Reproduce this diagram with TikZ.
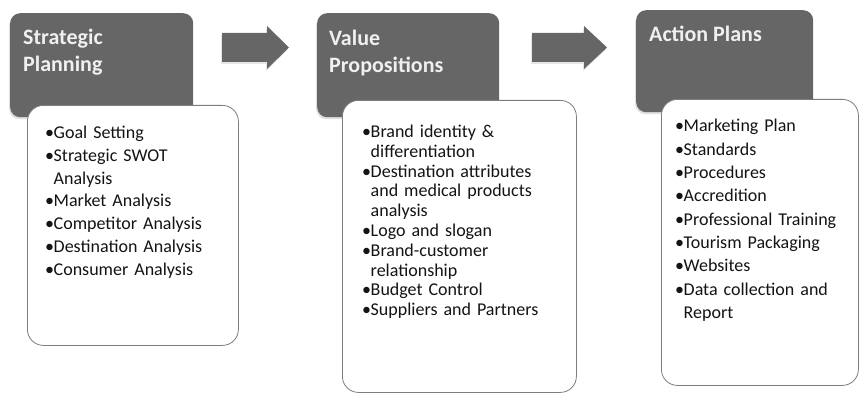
\documentclass[tikz,border=0pt]{standalone}
\usepackage{fontspec}
\setmainfont{Carlito}
\usetikzlibrary{shadows}
\definecolor{headgray}{RGB}{102,102,102}
\definecolor{framegray}{RGB}{125,125,125}
\newlength{\bulw}
\setlength{\bulw}{8.5pt}
\newcommand{\itm}[1]{\par\noindent\hangindent=\bulw\hangafter=1\makebox[\bulw][l]{\textbullet}#1}
\begin{document}
\begin{tikzpicture}[x=1pt,y=-1pt]
    \tikzset{
        headbox/.style={fill=headgray, rounded corners=10pt, anchor=north west,
            drop shadow={opacity=0.25, shadow xshift=-1pt, shadow yshift=-2pt}},
        listbox/.style={draw=framegray, fill=white, line width=0.8pt,
            rounded corners=16pt, anchor=north west},
        headtext/.style={anchor=north west, inner sep=0pt, align=left,
            text=white!94!black, font=\fontsize{22}{26.5}\selectfont\bfseries},
        bodytext/.style={anchor=north west, inner sep=0pt, align=left,
            text=black!92},
        blockarrow/.style={fill=headgray,
            drop shadow={opacity=0.2, shadow xshift=-1pt, shadow yshift=-2pt}}
    }
    \useasboundingbox (0,0) rectangle (860,396);

    % dark title boxes
    \node[headbox, minimum width=183pt, minimum height=104pt] (plan) at (10,13) {};
    \node[headbox, minimum width=182pt, minimum height=104pt] (value) at (317,13) {};
    \node[headbox, minimum width=177pt, minimum height=102pt] (action) at (636,10) {};

    % white list boxes
    \node[listbox, minimum width=211pt, minimum height=240pt] (planlist) at (27,105) {};
    \node[listbox, minimum width=234pt, minimum height=292pt] (valuelist) at (342,100) {};
    \node[listbox, minimum width=197pt, minimum height=286pt] (actionlist) at (661,99) {};

    % block arrows
    \foreach \xs/\xh/\xt in {222/267/289, 532/584/607}{
        \fill[blockarrow] (\xs,33) -- (\xh,33) -- (\xh,26) -- (\xt,47.5)
            -- (\xh,69) -- (\xh,62) -- (\xs,62) -- cycle;
    }

    % titles
    \node[headtext] (plan-t) at ([shift={(13,16)}]plan.north west) {Strategic\\Planning};
    \node[headtext] (value-t) at ([shift={(12,17)}]value.north west) {Value\\Propositions};
    \node[headtext] (action-t) at ([shift={(13,16)}]action.north west) {Action Plans};

    % lists
    \node[bodytext, text width=190pt, font=\fontsize{18}{22.8}\selectfont]
        (plan-l) at (45,115.5) {%
        \itm{Goal Setting}
        \itm{Strategic SWOT\newline Analysis}
        \itm{Market Analysis}
        \itm{Competitor Analysis}
        \itm{Destination Analysis}
        \itm{Consumer Analysis}\par};
    \node[bodytext, text width=210pt, font=\fontsize{18}{19.8}\selectfont]
        (value-l) at (362,117.5) {%
        \itm{Brand identity \&\newline differentiation}
        \itm{Destination attributes\newline and medical products\newline analysis}
        \itm{Logo and slogan}
        \itm{Brand-customer\newline relationship}
        \itm{Budget Control}
        \itm{Suppliers and Partners}\par};
    \node[bodytext, text width=180pt, font=\fontsize{18}{23.3}\selectfont]
        (action-l) at (675,108.5) {%
        \itm{Marketing Plan}
        \itm{Standards}
        \itm{Procedures}
        \itm{Accredition}
        \itm{Professional Training}
        \itm{Tourism Packaging}
        \itm{Websites}
        \itm{Data collection and\newline Report}\par};
\end{tikzpicture}
\end{document}
